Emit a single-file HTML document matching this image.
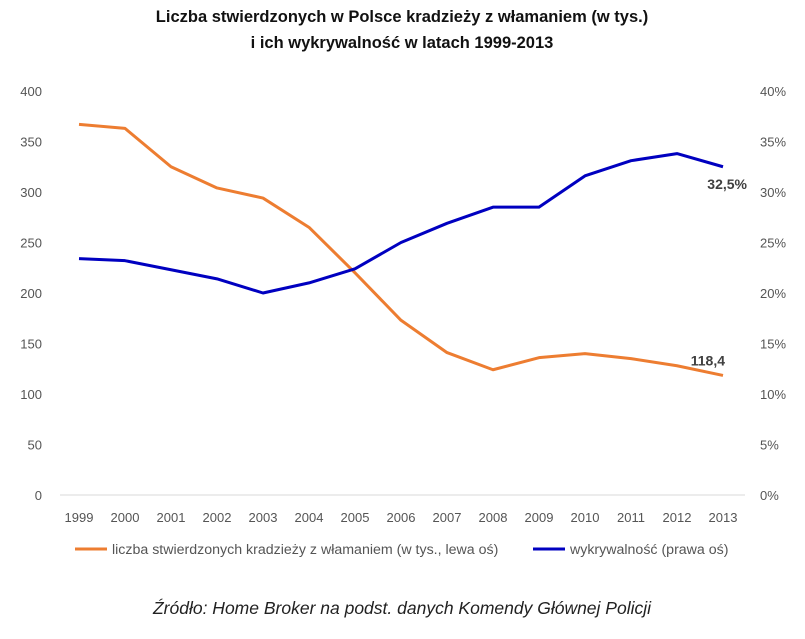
<!DOCTYPE html>
<html><head><meta charset="utf-8"><style>
body{margin:0;background:#fff;font-family:"Liberation Sans",sans-serif;}
svg text{font-family:"Liberation Sans",sans-serif;}
</style></head><body>
<svg id="chart" width="805" height="634">
<text x="402" y="22" text-anchor="middle" font-size="16.5" font-weight="bold" fill="#111">Liczba stwierdzonych w Polsce kradzieży z włamaniem (w tys.)</text>
<text x="402" y="48" text-anchor="middle" font-size="16.5" font-weight="bold" fill="#111">i ich wykrywalność w latach 1999-2013</text>
<line x1="60" y1="495" x2="745" y2="495" stroke="#d9d9d9"/>
<g id="axes"></g>
<g id="series"></g>
<line x1="75" y1="549" x2="107" y2="549" stroke="#ed7d31" stroke-width="3"/>
<text x="112" y="554" font-size="14.2" fill="#555">liczba stwierdzonych kradzieży z włamaniem (w tys., lewa oś)</text>
<line x1="533" y1="549" x2="565" y2="549" stroke="#0000c0" stroke-width="3"/>
<text x="570" y="554" font-size="14.2" fill="#555">wykrywalność (prawa oś)</text>
<text x="402" y="614" text-anchor="middle" font-size="17.5" font-style="italic" fill="#222">Źródło: Home Broker na podst. danych Komendy Głównej Policji</text>
</svg>
<script>
const years=[1999,2000,2001,2002,2003,2004,2005,2006,2007,2008,2009,2010,2011,2012,2013];
const thefts=[367,363,325,304,294,265,220,173,141,124,136,140,135,128,118.4];
const detection=[23.4,23.2,22.3,21.4,20.0,21.0,22.4,25.0,26.9,28.5,28.5,31.6,33.1,33.8,32.5];
const leftTicks=[0,50,100,150,200,250,300,350,400];
const rightTicks=[0,5,10,15,20,25,30,35,40];
const NS="http://www.w3.org/2000/svg";
const x=i=>79+i*46;
const yL=v=>495-v*1.01;
const yR=v=>495-v*10.1;
const axes=document.getElementById('axes'),series=document.getElementById('series');
function mk(tag,attrs,parent,text){const e=document.createElementNS(NS,tag);for(const k in attrs)e.setAttribute(k,attrs[k]);if(text!==undefined)e.textContent=text;parent.appendChild(e);return e;}
leftTicks.forEach(t=>{const e=mk('text',{x:42,y:yL(t)+5,'text-anchor':'end','font-size':13,fill:'#555'},axes,t);

});
rightTicks.forEach(t=>{const e=mk('text',{x:760,y:yR(t)+5,'font-size':13,fill:'#555'},axes,t+'%');

});
years.forEach((y,i)=>{const e=mk('text',{x:x(i),y:522,'text-anchor':'middle','font-size':13,fill:'#555'},axes,y);

});
const p1=mk('polyline',{points:thefts.map((v,i)=>x(i)+','+yL(v)).join(' '),fill:'none',stroke:'#ed7d31','stroke-width':3,'stroke-linejoin':'round'},series);


const p2=mk('polyline',{points:detection.map((v,i)=>x(i)+','+yR(v)).join(' '),fill:'none',stroke:'#0000c0','stroke-width':3,'stroke-linejoin':'round'},series);


const n=years.length-1;
const l1=mk('text',{x:x(n)+2,y:yL(thefts[n])-10,'text-anchor':'end','font-size':14,'font-weight':'bold',fill:'#404040'},series,String(thefts[n]).replace('.',','));


const l2=mk('text',{x:x(n)+24,y:yR(detection[n])+22,'text-anchor':'end','font-size':14,'font-weight':'bold',fill:'#404040'},series,String(detection[n]).replace('.',',')+'%');


</script>
</body></html>
